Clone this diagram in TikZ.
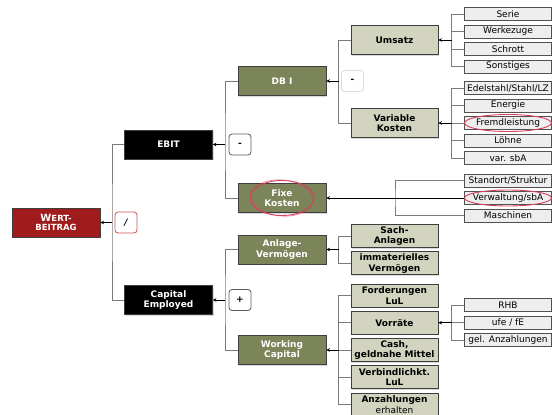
\documentclass[tikz,border=0pt]{standalone}
\usepackage{fontspec}
\setmainfont{DejaVu Sans}
\usetikzlibrary{arrows.meta,shadows}
\definecolor{wertred}{HTML}{A01C1C}
\definecolor{olive}{HTML}{7C845A}
\definecolor{sage}{HTML}{D2D4C0}
\definecolor{leafgrey}{HTML}{EEEEEE}
\definecolor{boxline}{HTML}{3E3E3E}
\definecolor{leafline}{HTML}{505050}
\definecolor{linkgrey}{HTML}{7A7A7A}
\definecolor{opline}{HTML}{5A5A5A}
\definecolor{oplight}{HTML}{DCDCD0}
\definecolor{opred}{HTML}{C85050}
\definecolor{markred}{HTML}{D8405E}
\begin{document}
\begin{tikzpicture}[x=1pt,y=-1pt,
    box/.style={rectangle,draw=boxline,line width=0.8pt,inner sep=0pt,align=center,
      font=\fontsize{9}{10.5}\selectfont\bfseries,
      drop shadow={shadow xshift=1pt,shadow yshift=-1pt,opacity=0.3}},
    topbox/.style={box,minimum width=88pt,minimum height=29pt},
    wertbox/.style={topbox,fill=wertred,text=white},
    ebitbox/.style={topbox,fill=black,text=white},
    olivebox/.style={topbox,fill=olive,text=white},
    sagebox/.style={box,fill=sage,minimum width=87pt,minimum height=29pt},
    subbox/.style={box,fill=sage,minimum width=87pt,minimum height=23pt},
    leafbox/.style={rectangle,draw=leafline,line width=0.8pt,fill=leafgrey,inner sep=0pt,
      minimum width=87pt,minimum height=13pt,font=\fontsize{9}{10}\selectfont},
    opbox/.style={rectangle,rounded corners=3pt,draw=opline,line width=0.8pt,fill=white,
      inner sep=0pt,minimum width=22pt,minimum height=21pt,font=\fontsize{9}{10}\selectfont\bfseries},
    link/.style={draw=linkgrey,line width=0.7pt},
    feed/.style={draw=black,line width=0.7pt,-{Stealth[length=3.5pt,width=3.5pt]}},
    markup/.style={draw=markred,line width=0.9pt}]
  \useasboundingbox (0,0) rectangle (552,415);
  \draw
    (56,222.5) node[wertbox] (wert) {{\fontsize{10}{10}\selectfont W}{\fontsize{8.5}{9}\selectfont ERT-}\\[-1pt]{\fontsize{8.5}{9}\selectfont BEITRAG}}
    (168.5,144.5) node[ebitbox] (ebit) {EBIT}
    (168.5,300) node[ebitbox] (capital) {Capital\\Employed}
    (282,81) node[olivebox] (dbi) {DB I}
    (282,198) node[olivebox] (fixe) {Fixe\\Kosten}
    (282,249.5) node[olivebox] (anlage) {Anlage-\\Vermögen}
    (282,350) node[olivebox] (working) {Working\\Capital}
    (394.5,40) node[sagebox] (umsatz) {Umsatz}
    (394.5,123) node[sagebox] (variable) {Variable\\Kosten}
    (394.5,236) node[subbox] (sach) {Sach-\\Anlagen}
    (394.5,263.3) node[subbox] (immat) {immaterielles\\Vermögen}
    (394.5,295.4) node[subbox] (ford) {Forderungen\\LuL}
    (394.5,322.7) node[subbox] (vorraete) {Vorräte}
    (394.5,350) node[subbox] (cash) {Cash,\\geldnahe Mittel}
    (394.5,377.3) node[subbox] (verb) {Verbindlichkt.\\LuL}
    (394.5,404.6) node[subbox] (anz) {Anzahlungen\\\mdseries erhalten};
  \draw
    (508,14) node[leafbox] (serie) {Serie}
    (508,31.5) node[leafbox] (werkzeug) {Werkezuge}
    (508,49) node[leafbox] (schrott) {Schrott}
    (508,66.5) node[leafbox] (sonst) {Sonstiges}
    (508,88) node[leafbox] (edel) {Edelstahl/Stahl/LZ}
    (508,105.5) node[leafbox] (energie) {Energie}
    (508,123) node[leafbox] (fremd) {Fremdleistung}
    (508,140.5) node[leafbox] (loehne) {Löhne}
    (508,158) node[leafbox] (varsba) {var. sbA}
    (508,180.5) node[leafbox] (standort) {Standort/Struktur}
    (508,198) node[leafbox] (verw) {Verwaltung/sbA}
    (508,215.5) node[leafbox] (masch) {Maschinen}
    (508,305.2) node[leafbox] (rhb) {RHB}
    (508,322.7) node[leafbox] (ufe) {ufe / fE}
    (508,340.2) node[leafbox] (gel) {gel. Anzahlungen};
  \draw
    (126,222.5) node[opbox,draw=opred] (div) {\itshape /}
    (240,144.5) node[opbox] (minusa) {-}
    (240,300) node[opbox] (plus) {+}
    (352.5,81) node[opbox,draw=oplight] (minusb) {-};
  \draw
    (112,222.5) coordinate (jwert)
    (225,144.5) coordinate (jebit)
    (225,300) coordinate (jcap)
    (338.5,81) coordinate (jdbi)
    (395,198) coordinate (jfixe)
    (338.5,249.5) coordinate (janl)
    (338.5,350) coordinate (jwork)
    (451.5,40) coordinate (jums)
    (451.5,123) coordinate (jvar)
    (451.5,322.7) coordinate (jvor);
  \begin{scope}[link]
    \draw (ebit.west) -| (jwert) |- (capital.west);
    \draw (dbi.west) -| (jebit) |- (fixe.west);
    \draw (anlage.west) -| (jcap) |- (working.west);
    \draw (umsatz.west) -| (jdbi) |- (variable.west);
    \draw (sach.west) -| (janl) |- (immat.west);
    \draw (ford.west) -| (jwork) |- (anz.west);
    \draw (vorraete.west) -- (vorraete.west -| jwork);
    \draw (cash.west) -- (jwork);
    \draw (verb.west) -- (verb.west -| jwork);
    \draw (serie.west) -| (jums) |- (sonst.west);
    \draw (werkzeug.west) -- (werkzeug.west -| jums);
    \draw (schrott.west) -- (schrott.west -| jums);
    \draw (edel.west) -| (jvar) |- (varsba.west);
    \draw (energie.west) -- (energie.west -| jvar);
    \draw (fremd.west) -- (jvar);
    \draw (loehne.west) -- (loehne.west -| jvar);
    \draw (standort.west) -| (jfixe) |- (masch.west);
    \draw (rhb.west) -| (jvor) |- (gel.west);
    \draw (ufe.west) -- (jvor);
  \end{scope}
  \begin{scope}[feed]
    \draw (jwert) -- (wert.east);
    \draw (jebit) -- (ebit.east);
    \draw (jcap) -- (capital.east);
    \draw (jdbi) -- (dbi.east);
    \draw (verw.west) -- (fixe.east);
    \draw (janl) -- (anlage.east);
    \draw (jwork) -- (working.east);
    \draw (jums) -- (umsatz.east);
    \draw (jvar) -- (variable.east);
    \draw (jvor) -- (vorraete.east);
  \end{scope}
  \draw[markup] (fixe.center) ellipse [x radius=32pt,y radius=17.5pt];
  \draw[markup,opacity=0.5,rotate around={-5:(fixe.center)}] (fixe.center) ellipse [x radius=31pt,y radius=18pt];
  \draw[markup] (fremd.center) ellipse [x radius=43.5pt,y radius=8.5pt];
  \draw[markup] (verw.center) ellipse [x radius=43.5pt,y radius=8pt];
\end{tikzpicture}
\end{document}
